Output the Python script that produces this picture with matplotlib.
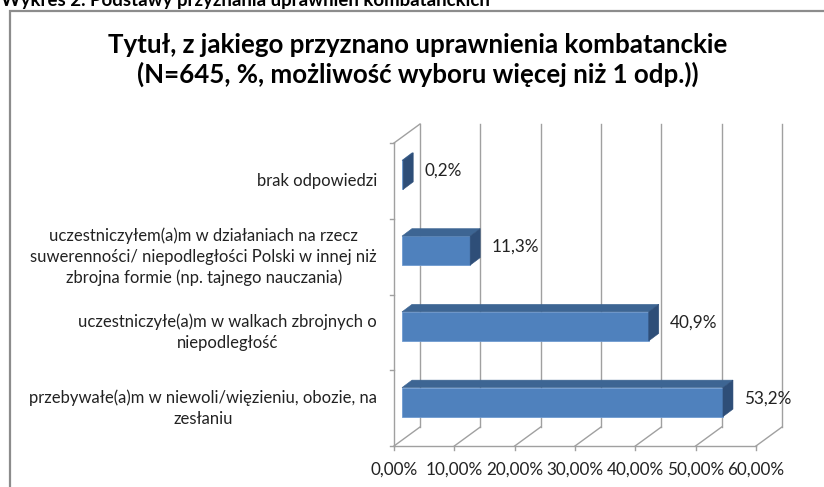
import numpy as np
import matplotlib
matplotlib.use('Agg')
import matplotlib.pyplot as plt
from matplotlib.patches import Polygon, Rectangle

plt.rcParams['font.family'] = ['Lato', 'DejaVu Sans']

# dane (od dołu do góry)
kategorie = [
    'przebywałe(a)m w niewoli/więzieniu, obozie, na\nzesłaniu',
    'uczestniczyłe(a)m w walkach zbrojnych o\nniepodległość',
    'uczestniczyłem(a)m w działaniach na rzecz\nsuwerenności/ niepodległości Polski w innej niż\nzbrojna formie (np. tajnego nauczania)',
    'brak odpowiedzi',
]
wartosci = [53.2, 40.9, 11.3, 0.2]
etykiety = ['53,2%', '40,9%', '11,3%', '0,2%']
xticks = [0, 10, 20, 30, 40, 50, 60]
xtick_labels = ['0,00%', '10,00%', '20,00%', '30,00%', '40,00%', '50,00%', '60,00%']

naglowek = 'Wykres 2. Podstawy przyznania uprawnień kombatanckich'
tytul = 'Tytuł, z jakiego przyznano uprawnienia kombatanckie\n(N=645, %, możliwość wyboru więcej niż 1 odp.))'

W, H = 824, 487
fig = plt.figure(figsize=(W / 100, H / 100), dpi=100)

# ramka wykresu
fig.add_artist(Rectangle((10 / W, -0.2), 1.0, 1 - 11 / H + 0.2, transform=fig.transFigure,
                         fill=False, edgecolor='#8c8c8c', lw=1.6))
fig.text(1 / W, 1 - 6 / H, naglowek, ha='left', va='baseline', fontsize=13.4, weight='bold')
fig.text(418 / W, 1 - 60 / H, tytul, ha='center', va='center', fontsize=18.6,
         weight='bold', linespacing=1.2)

# obszar wykresu (płaszczyzna przednia)
L, R, T, B = 394, 756, 143, 446
ax = fig.add_axes([L / W, 1 - B / H, (R - L) / W, (B - T) / H])
ax.set_xlim(0, 60)
ax.set_ylim(-0.5, 3.5)
ax.axis('off')
px = 60 / (R - L)
py = 4 / (B - T)

grid = '#a0a0a0'
bx, by = 26 * px, 19 * py
y0, y1 = -0.5, 3.5
for t in xticks:
    ax.plot([t + bx, t + bx], [y0 + by, y1 + by], color=grid, lw=1.0, zorder=1, clip_on=False)
    ax.plot([t, t + bx], [y0, y0 + by], color=grid, lw=1.0, zorder=1, clip_on=False)
    ax.plot([t, t], [y0, y0 - 4 * py], color=grid, lw=1.0, zorder=1, clip_on=False)
ax.plot([0, 60], [y0, y0], color=grid, lw=1.0, zorder=1, clip_on=False)
ax.plot([0, 0], [y0, y1], color=grid, lw=1.0, zorder=1, clip_on=False)
ax.plot([0, bx], [y1, y1 + by], color=grid, lw=1.0, zorder=1, clip_on=False)
for yy in np.arange(-0.5, 4, 1):
    ax.plot([-4 * px, 0], [yy, yy], color=grid, lw=1.0, zorder=1, clip_on=False)

# słupki 3D
fx, fy = 8 * px, 6 * py
h = 14.5 * py
dx, dy = 10 * px, 7.5 * py
for i, v in enumerate(wartosci):
    yc = i + fy
    ax.add_patch(Rectangle((fx, yc - h), v, 2 * h, facecolor='#4f81bd',
                           edgecolor='#6f9ad0', lw=0.6, zorder=3, clip_on=False))
    ax.add_patch(Polygon([(fx, yc + h), (fx + v, yc + h), (fx + v + dx, yc + h + dy),
                          (fx + dx, yc + h + dy)], closed=True, facecolor='#3d6593',
                         edgecolor='#3d6593', lw=0.4, zorder=3, clip_on=False))
    ax.add_patch(Polygon([(fx + v, yc - h), (fx + v, yc + h), (fx + v + dx, yc + h + dy),
                          (fx + v + dx, yc - h + dy)], closed=True, facecolor='#2e4e78',
                         edgecolor='#2e4e78', lw=0.4, zorder=3, clip_on=False))
    ax.text(fx + v + 21 * px, yc + 4 * py, etykiety[i], ha='left', va='center',
            fontsize=12.3, color='#222222')
    ax.text(-17 * px, i, kategorie[i], ha='right', va='center', multialignment='center',
            fontsize=12, linespacing=1.38, color='#222222')

for t, lbl in zip(xticks, xtick_labels):
    ax.text(t, y0 - 24 * py, lbl, ha='center', va='center', fontsize=12.3, color='#222222')

fig.savefig('out.png', dpi=100)
